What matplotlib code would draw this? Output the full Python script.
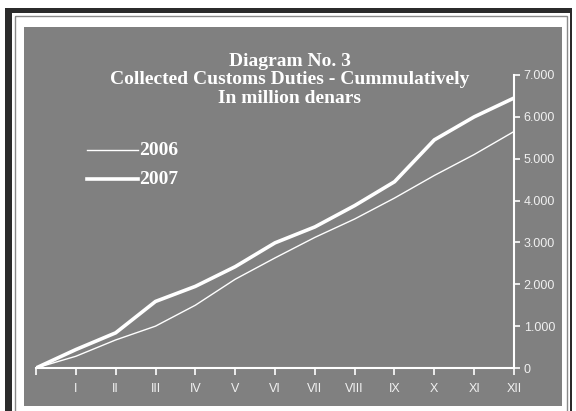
import matplotlib
matplotlib.use('Agg')
import matplotlib.pyplot as plt
from matplotlib.patches import Rectangle

months = ['', 'I', 'II', 'III', 'IV', 'V', 'VI', 'VII', 'VIII', 'IX', 'X', 'XI', 'XII']
y2006 = [0, 280, 670, 1000, 1500, 2120, 2630, 3120, 3560, 4060, 4600, 5100, 5650]
y2007 = [0, 440, 840, 1590, 1950, 2420, 2990, 3370, 3880, 4450, 5450, 6000, 6450]
yticks = [0, 1000, 2000, 3000, 4000, 5000, 6000, 7000]
ylabels = ['0', '1.000', '2.000', '3.000', '4.000', '5.000', '6.000', '7.000']

W, H = 576, 411
fig = plt.figure(figsize=(5.76, 4.11), dpi=100)
fig.patch.set_facecolor('white')

# frame drawn in pixel coords
bg = fig.add_axes([0, 0, 1, 1])
bg.set_xlim(0, W)
bg.set_ylim(H, 0)
bg.axis('off')
bg.add_patch(Rectangle((5, 8), 567, 420, facecolor='#2b2b2b', edgecolor='none'))
bg.add_patch(Rectangle((12, 13), 558, 420, facecolor='white', edgecolor='none'))
bg.add_patch(Rectangle((15, 16), 552, 420, facecolor='none', edgecolor='#8a8a8a', lw=1))
bg.add_patch(Rectangle((24, 27), 538, 379, facecolor='#808080', edgecolor='none'))

# main plot area
ax = fig.add_axes([36 / W, (H - 368) / H, (514 - 36) / W, (368 - 75) / H])
ax.patch.set_alpha(0)
x = list(range(len(months)))
ax.plot(x, y2006, color='white', lw=1.0)
ax.plot(x, y2007, color='white', lw=2.6)
ax.set_xlim(0, 12)
ax.set_ylim(0, 7000)

for s in ['left', 'top']:
    ax.spines[s].set_visible(False)
for s in ['bottom', 'right']:
    ax.spines[s].set_color('white')
    ax.spines[s].set_linewidth(1.5)

ax.set_xticks(x)
ax.set_xticklabels(months, family='Liberation Sans', fontsize=9, color='#f0f0f0')
ax.set_yticks(yticks)
ax.set_yticklabels(ylabels, family='Liberation Sans', fontsize=9, color='#f0f0f0')
ax.yaxis.tick_right()
ax.tick_params(axis='x', colors='white', direction='out', length=5, width=1.2, pad=6, labelcolor='#f0f0f0')
ax.tick_params(axis='y', colors='white', direction='out', length=4, width=1.2, pad=3, labelcolor='#f0f0f0')

# title
title = 'Diagram No. 3\nCollected Customs Duties - Cummulatively\nIn million denars'
bg.text(290, 80, title, ha='center', va='center', color='white', fontsize=14,
        fontweight='bold', family='Liberation Serif', linespacing=1.1)

# legend
bg.plot([87, 138], [150, 150], color='white', lw=1.0)
bg.plot([87, 138], [179, 179], color='white', lw=2.6)
bg.text(139, 150, '2006', ha='left', va='center', color='white', fontsize=14,
        fontweight='bold', family='Liberation Serif')
bg.text(139, 179, '2007', ha='left', va='center', color='white', fontsize=14,
        fontweight='bold', family='Liberation Serif')

fig.savefig('out.png', dpi=100)
